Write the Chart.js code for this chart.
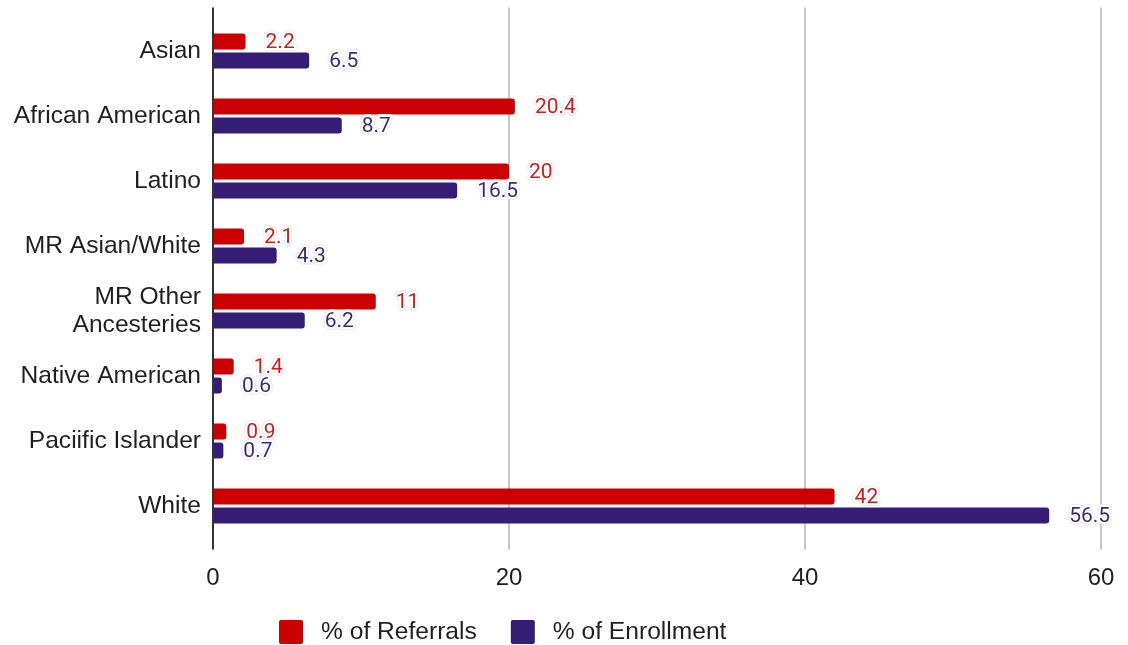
<!DOCTYPE html>
<html>
<head>
  <title>Referrals vs Enrollment</title>
  <script src="https://cdn.jsdelivr.net/npm/chart.js"></script>
  <style>
    body { margin: 0; background: #fff; }
    #wrap { width: 1128px; height: 645px; }
  </style>
</head>
<body>
<div id="wrap"><canvas id="chart" width="1128" height="645"></canvas></div>
<script>
const groups = ['Asian', 'African American', 'Latino', 'MR Asian/White', ['MR Other', 'Ancesteries'],
  'Native American', 'Paciific Islander', 'White'];
const referrals = [2.2, 20.4, 20, 2.1, 11, 1.4, 0.9, 42];
const enrollment = [6.5, 8.7, 16.5, 4.3, 6.2, 0.6, 0.7, 56.5];
const seriesNames = ['% of Referrals', '% of Enrollment'];
const xMin = 0, xMax = 60, xStep = 20;

const RED = '#cc0000', PURPLE = '#351c75';
const labelColors = ['#c5221f', '#3d2b7a'];
const FONT = "'Liberation Sans', Arial, sans-serif";

// vertical gridlines + zero axis, running a little past the plot top/bottom
const gridPlugin = {
  id: 'grid',
  beforeDatasetsDraw(chart) {
    const { ctx, chartArea: a, scales: { x } } = chart;
    ctx.save();
    ctx.lineWidth = 2;
    ctx.strokeStyle = '#c8c8c8';
    x.ticks.forEach(t => {
      if (t.value === 0) return;
      const px = Math.round(x.getPixelForValue(t.value));
      ctx.beginPath();
      ctx.moveTo(px, a.top - 11);
      ctx.lineTo(px, a.bottom + 11);
      ctx.stroke();
    });
    ctx.restore();
  },
  afterDatasetsDraw(chart) {
    const { ctx, chartArea: a, scales: { x } } = chart;
    const px = Math.round(x.getPixelForValue(0));
    ctx.save();
    ctx.lineWidth = 2;
    ctx.strokeStyle = '#333';
    ctx.beginPath();
    ctx.moveTo(px, a.top - 11);
    ctx.lineTo(px, a.bottom + 11);
    ctx.stroke();
    ctx.restore();
  }
};

// value labels with a white halo at the end of each bar
const valueLabels = {
  id: 'valueLabels',
  afterDatasetsDraw(chart) {
    const ctx = chart.ctx;
    ctx.save();
    ctx.font = "21px Roboto, sans-serif";
    ctx.textBaseline = 'middle';
    ctx.textAlign = 'left';
    ctx.lineJoin = 'round';
    chart.data.datasets.forEach((ds, i) => {
      chart.getDatasetMeta(i).data.forEach((bar, j) => {
        const txt = String(ds.data[j]);
        const tx = bar.x + 20, ty = bar.y + 1;
        ctx.lineWidth = 6;
        ctx.strokeStyle = '#ececf0';
        ctx.strokeText(txt, tx, ty);
        ctx.lineWidth = 4;
        ctx.strokeStyle = '#fff';
        ctx.strokeText(txt, tx, ty);
        ctx.fillStyle = labelColors[i];
        ctx.fillText(txt, tx, ty);
      });
    });
    ctx.restore();
  }
};

// bottom legend
const legendPlugin = {
  id: 'bottomLegend',
  afterDraw(chart) {
    const ctx = chart.ctx;
    let x = 279;
    const y = 632;
    ctx.save();
    ctx.font = '24.6px ' + FONT;
    ctx.textBaseline = 'middle';
    chart.data.datasets.forEach(ds => {
      ctx.fillStyle = ds.backgroundColor;
      ctx.beginPath();
      ctx.roundRect(x, y - 12, 24, 24, 2);
      ctx.fill();
      ctx.fillStyle = '#1f1f1f';
      ctx.fillText(ds.label, x + 42, y);
      x += 42 + ctx.measureText(ds.label).width + 34;
    });
    ctx.restore();
  }
};

new Chart(document.getElementById('chart'), {
  type: 'bar',
  data: {
    labels: groups,
    datasets: [
      { label: seriesNames[0], data: referrals, backgroundColor: RED },
      { label: seriesNames[1], data: enrollment, backgroundColor: PURPLE }
    ]
  },
  options: {
    indexAxis: 'y',
    responsive: false,
    animation: false,
    layout: { padding: { top: 18.5, right: 27, bottom: 56.5, left: 0 } },
    datasets: {
      bar: { categoryPercentage: 0.585, barPercentage: 0.84, borderRadius: 3 }
    },
    plugins: { legend: { display: false }, tooltip: { enabled: false } },
    scales: {
      x: {
        min: xMin, max: xMax,
        ticks: { stepSize: xStep, color: '#1f1f1f', font: { family: FONT, size: 24 }, padding: 25 },
        grid: { display: false, drawTicks: false },
        border: { display: false },
        afterFit(s) { s.height = 50; s.paddingLeft = 0; s.paddingRight = 0; }
      },
      y: {
        ticks: { color: '#1f1f1f', font: { family: FONT, size: 24.6, lineHeight: 1.14 }, padding: 12 },
        grid: { display: false, drawTicks: false },
        border: { display: false },
        afterFit(s) { s.width = 213; s.paddingTop = 0; s.paddingBottom = 0; }
      }
    }
  },
  plugins: [gridPlugin, valueLabels, legendPlugin]
});
</script>
</body>
</html>
